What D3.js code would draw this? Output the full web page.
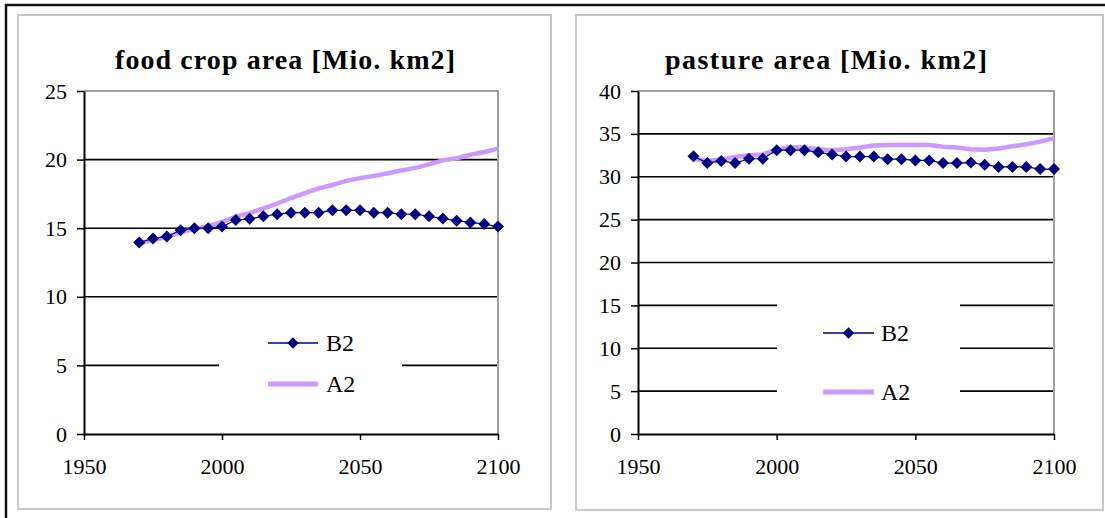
<!DOCTYPE html>
<html>
<head>
<meta charset="utf-8">
<script src="https://cdn.jsdelivr.net/npm/d3@7"></script>
<style>
body { margin: 0; background: #fff; }
svg { display: block; }
text { font-family: "Liberation Serif", "Times New Roman", serif; fill: #000; }
</style>
</head>
<body>
<svg id="chart" width="1105" height="518"></svg>
<script>
// values (every 5 years)
var years = [1970, 1975, 1980, 1985, 1990, 1995, 2000, 2005, 2010, 2015, 2020, 2025, 2030, 2035,
             2040, 2045, 2050, 2055, 2060, 2065, 2070, 2075, 2080, 2085, 2090, 2095, 2100];

var foodB2 = [13.95, 14.25, 14.4, 14.85, 15.0, 15.0, 15.12, 15.6, 15.68, 15.87, 16.02, 16.13, 16.13, 16.13,
              16.3, 16.3, 16.3, 16.13, 16.13, 16.02, 16.02, 15.87, 15.7, 15.55, 15.42, 15.3, 15.12];
var foodA2 = [13.9, 14.15, 14.35, 14.7, 14.95, 15.15, 15.45, 15.85, 16.1, 16.45, 16.8, 17.2, 17.55, 17.9,
              18.15, 18.45, 18.65, 18.8, 19.0, 19.2, 19.4, 19.65, 19.95, 20.1, 20.35, 20.55, 20.8];

var pastureB2 = [32.4, 31.6, 31.85, 31.6, 32.1, 32.1, 33.1, 33.1, 33.1, 32.85, 32.6, 32.35, 32.35, 32.35,
                 32.05, 32.05, 31.9, 31.9, 31.6, 31.6, 31.65, 31.4, 31.15, 31.15, 31.15, 30.9, 30.9];
var pastureA2 = [32.1, 31.85, 32.0, 32.3, 32.5, 32.6, 33.15, 33.45, 33.4, 33.2, 33.1, 33.2, 33.4, 33.65,
                 33.7, 33.7, 33.7, 33.7, 33.5, 33.4, 33.2, 33.15, 33.3, 33.55, 33.8, 34.1, 34.5];

var xTicks = [1950, 2000, 2050, 2100];
var foodTicks = [0, 5, 10, 15, 20, 25];
var pastureTicks = [0, 5, 10, 15, 20, 25, 30, 35, 40];
var seriesNames = ["B2", "A2"];

var navy = "#000080";
var lilac = "#cc99ff";

var svg = d3.select("#chart");

// window frame (top + left)
svg.append("line").attr("x1", 5).attr("x2", 1105).attr("y1", 5).attr("y2", 5)
    .attr("stroke", "#111").attr("stroke-width", 2.5);
svg.append("line").attr("x1", 6).attr("x2", 6).attr("y1", 4).attr("y2", 518)
    .attr("stroke", "#111").attr("stroke-width", 2.5);

var panels = [
    {
        panel: [18, 15, 551, 509],
        plot: { x0: 84, x1: 498, y0: 434, y1: 91 },
        title: "food crop area [Mio. km2]", titleX: 285, titleLen: 340,
        yTicks: foodTicks, b2: foodB2, a2: foodA2,
        legend: { box: [219, 312, 402, 421], rowY: [343, 384], lineX: [268, 318], textX: 326 }
    },
    {
        panel: [576, 15, 1103, 510],
        plot: { x0: 638, x1: 1054, y0: 434, y1: 91 },
        title: "pasture area [Mio. km2]", titleX: 826, titleLen: 322,
        yTicks: pastureTicks, b2: pastureB2, a2: pastureA2,
        legend: { box: [777, 275, 960, 422], rowY: [333, 392], lineX: [823, 874], textX: 881 }
    }
];

panels.forEach(drawPanel);

function drawPanel(cfg) {
    var g = svg.append("g");
    var yMax = cfg.yTicks[cfg.yTicks.length - 1];

    g.append("rect")
        .attr("x", cfg.panel[0]).attr("y", cfg.panel[1])
        .attr("width", cfg.panel[2] - cfg.panel[0])
        .attr("height", cfg.panel[3] - cfg.panel[1])
        .attr("fill", "#fff").attr("stroke", "#c8c8c8").attr("stroke-width", 2);

    var x = d3.scaleLinear().domain([1950, 2100]).range([cfg.plot.x0, cfg.plot.x1]);
    var y = d3.scaleLinear().domain([0, yMax]).range([cfg.plot.y0, cfg.plot.y1]);

    g.append("text")
        .attr("x", cfg.titleX).attr("y", 69)
        .attr("text-anchor", "middle")
        .attr("font-size", 28).attr("font-weight", "bold")
        .attr("textLength", cfg.titleLen).attr("lengthAdjust", "spacing")
        .text(cfg.title);

    // gridlines
    g.selectAll("line.grid")
        .data(cfg.yTicks.filter(d => d > 0 && d < yMax))
        .enter().append("line")
            .attr("class", "grid")
            .attr("x1", x(1950)).attr("x2", x(2100))
            .attr("y1", d => y(d)).attr("y2", d => y(d))
            .attr("stroke", "#000").attr("stroke-width", 1.6);

    // plot area border (top and right)
    g.append("path")
        .attr("d", "M" + x(1950) + "," + y(yMax) + "H" + x(2100) + "V" + y(0))
        .attr("fill", "none").attr("stroke", "#a0a0a0").attr("stroke-width", 2);

    // legend background hides the gridlines behind it
    var lg = cfg.legend;
    g.append("rect")
        .attr("x", lg.box[0]).attr("y", lg.box[1])
        .attr("width", lg.box[2] - lg.box[0]).attr("height", lg.box[3] - lg.box[1])
        .attr("fill", "#fff");

    // axes
    var yAxis = d3.axisLeft(y).tickValues(cfg.yTicks).tickSize(7).tickSizeOuter(0)
        .tickPadding(10).tickFormat(d3.format("d"));
    g.append("g")
        .attr("transform", "translate(" + x(1950) + ",0)")
        .call(yAxis)
        .call(styleAxis);

    var xAxis = d3.axisBottom(x).tickValues(xTicks).tickSize(6).tickSizeOuter(0)
        .tickPadding(18).tickFormat(d3.format("d"));
    g.append("g")
        .attr("transform", "translate(0," + y(0) + ")")
        .call(xAxis)
        .call(styleAxis);

    // series
    var line = d3.line().x((d, i) => x(years[i])).y(d => y(d));

    g.append("path").datum(cfg.a2)
        .attr("d", line)
        .attr("fill", "none").attr("stroke", lilac).attr("stroke-width", 4.5)
        .attr("stroke-linejoin", "round");

    g.append("path").datum(cfg.b2)
        .attr("d", line)
        .attr("fill", "none").attr("stroke", navy).attr("stroke-width", 1.2);

    var diamond = d3.symbol(d3.symbolSquare, 72);
    g.selectAll("path.mk")
        .data(cfg.b2)
        .enter().append("path")
            .attr("class", "mk")
            .attr("d", diamond)
            .attr("transform", (d, i) => "translate(" + x(years[i]) + "," + y(d) + ") rotate(45)")
            .attr("fill", navy);

    // legend entries
    g.append("line")
        .attr("x1", lg.lineX[0]).attr("x2", lg.lineX[1])
        .attr("y1", lg.rowY[0]).attr("y2", lg.rowY[0])
        .attr("stroke", navy).attr("stroke-width", 1.5);
    g.append("path")
        .attr("d", d3.symbol(d3.symbolSquare, 64))
        .attr("transform", "translate(" + (lg.lineX[0] + lg.lineX[1]) / 2 + "," + lg.rowY[0] + ") rotate(45)")
        .attr("fill", navy);
    g.append("line")
        .attr("x1", lg.lineX[0]).attr("x2", lg.lineX[1])
        .attr("y1", lg.rowY[1]).attr("y2", lg.rowY[1])
        .attr("stroke", lilac).attr("stroke-width", 5);

    g.selectAll("text.leg")
        .data(seriesNames)
        .enter().append("text")
            .attr("class", "leg")
            .attr("x", lg.textX)
            .attr("y", (d, i) => lg.rowY[i] + 8)
            .attr("font-size", 24)
            .text(d => d);
}

function styleAxis(a) {
    a.select(".domain").attr("stroke", "#000").attr("stroke-width", 2);
    a.selectAll(".tick line").attr("stroke", "#000").attr("stroke-width", 1.5);
    a.selectAll(".tick text").attr("font-size", 22).attr("fill", "#000");
}
</script>
</body>
</html>
